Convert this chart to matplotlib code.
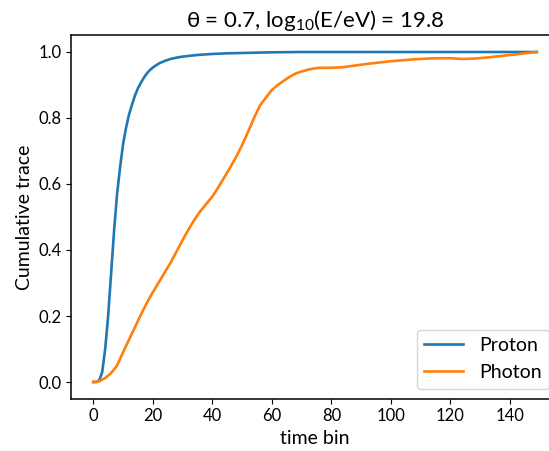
import matplotlib
matplotlib.use("Agg")
import matplotlib.pyplot as plt

plt.rcParams['font.family'] = ['Lato', 'DejaVu Sans']
plt.rcParams['mathtext.fontset'] = 'custom'
plt.rcParams['mathtext.rm'] = 'Lato'
plt.rcParams['mathtext.it'] = 'Lato:italic'

proton_bins = [0, 1, 2, 3, 4, 5, 6, 7, 8, 9, 10, 11, 12, 13, 14, 15, 16, 17, 18, 19, 20,
               22, 24, 26, 28, 30, 35, 40, 45, 50, 55, 60, 70, 80, 100, 120, 149]
proton_cum = [0.0, 0.0, 0.005, 0.03, 0.10, 0.20, 0.33, 0.46, 0.57, 0.65, 0.72, 0.77, 0.81,
              0.84, 0.868, 0.89, 0.907, 0.922, 0.935, 0.945, 0.953,
              0.965, 0.973, 0.979, 0.983, 0.986, 0.991, 0.994, 0.996, 0.997, 0.998, 0.999,
              1.0, 1.0, 1.0, 1.0, 1.0]

photon_bins = [0, 2, 4, 6, 8, 10, 12, 14, 16, 18, 20, 22, 24, 26, 28, 30, 32, 34, 36, 38,
               40, 42, 44, 46, 48, 50, 52, 54, 56, 58, 60, 62, 64, 66, 68, 70, 72, 74, 76,
               78, 80, 84, 88, 92, 96, 100, 104, 108, 112, 116, 120, 124, 128, 132, 136,
               140, 144, 149]
photon_cum = [0.0, 0.002, 0.012, 0.027, 0.05, 0.09, 0.128, 0.166, 0.204, 0.24, 0.272,
              0.302, 0.332, 0.362, 0.396, 0.43, 0.462, 0.492, 0.518, 0.54, 0.562, 0.59,
              0.62, 0.65, 0.682, 0.718, 0.758, 0.8, 0.838, 0.862, 0.885, 0.9, 0.913,
              0.925, 0.935, 0.941, 0.946, 0.95, 0.952, 0.952, 0.952, 0.954, 0.959,
              0.964, 0.968, 0.972, 0.975, 0.978, 0.98, 0.981, 0.981, 0.979, 0.98,
              0.983, 0.987, 0.991, 0.995, 1.0]

fig = plt.figure(figsize=(5.49, 4.51), dpi=100)
ax = fig.add_axes([0.1295, 0.1164, 0.8887, 0.8049])

ax.plot(proton_bins, proton_cum, color='#1f77b4', lw=1.9, label='Proton')
ax.plot(photon_bins, photon_cum, color='#ff7f0e', lw=1.9, label='Photon')

ax.set_xticks([0, 20, 40, 60, 80, 100, 120, 140])
ax.set_yticks([0.0, 0.2, 0.4, 0.6, 0.8, 1.0])
ax.tick_params(labelsize=12)
for s in ax.spines.values():
    s.set_linewidth(1.1)

ax.set_xlabel('time bin', fontsize=14)
ax.set_ylabel('Cumulative trace', fontsize=14)
ax.set_title(r'θ = 0.7, $\mathrm{log}_{10}$(E/eV) = 19.8', fontsize=16)
ax.legend(loc='lower right', fontsize=14)

fig.savefig('out.png', dpi=100)
